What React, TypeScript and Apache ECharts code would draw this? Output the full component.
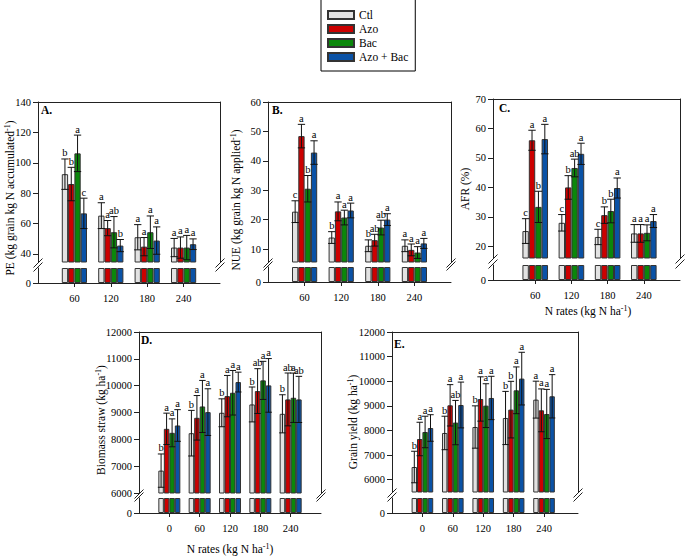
import React, { useEffect, useRef } from 'react';
import * as echarts from 'echarts';

const treatments = ['Ctl', 'Azo', 'Bac', 'Azo + Bac'];
const ratesABC = [60, 120, 180, 240];
const ratesDE = [0, 60, 120, 180, 240];

// A. PE (rows: Ctl, Azo, Bac, Azo + Bac; columns: N rates)
const peMean = [
  [92.5, 65.2, 51.0, 44.2],
  [86.0, 57.0, 44.8, 44.2],
  [106.2, 54.3, 54.3, 44.2],
  [66.7, 45.5, 48.8, 46.4],
];
const peErr = [
  [10, 8.5, 8.3, 6],
  [11, 5, 6, 7],
  [12, 10.3, 10.7, 8],
  [10, 4, 9, 3.5],
];
const peLetters = [
  ['b', 'a', 'a', 'a'],
  ['b', 'a', 'a', 'a'],
  ['a', 'ab', 'a', 'a'],
  ['c', 'b', 'a', 'a'],
];
const peTicks = [40, 60, 80, 100, 120, 140];

// B. NUE
const nueMean = [
  [22.7, 13.9, 11.1, 11.1],
  [48.4, 22.8, 13.0, 9.7],
  [30.5, 20.7, 17.3, 8.8],
  [42.8, 23.1, 20.0, 11.9],
];
const nueErr = [
  [3.7, 2, 2, 2],
  [4, 3.2, 2, 2],
  [4.5, 2.5, 2.5, 2],
  [4, 2.5, 2, 1.7],
];
const nueLetters = [
  ['c', 'b', 'b', 'a'],
  ['a', 'a', 'ab', 'a'],
  ['b', 'a', 'ab', 'a'],
  ['a', 'a', 'a', 'a'],
];
const nueTicks = [10, 20, 30, 40, 50, 60];

// C. AFR
const afrMean = [
  [25.2, 28.0, 23.2, 24.4],
  [56.0, 40.0, 30.6, 24.4],
  [33.4, 46.6, 32.0, 24.6],
  [56.4, 51.4, 39.8, 28.6],
];
const afrErr = [
  [4.2, 2.8, 2.6, 3],
  [3.4, 4, 2.8, 3],
  [5.3, 3, 4, 2.7],
  [5, 3.6, 3.4, 2.2],
];
const afrLetters = [
  ['c', 'c', 'c', 'a'],
  ['a', 'b', 'b', 'a'],
  ['b', 'ab', 'b', 'a'],
  ['a', 'a', 'a', 'a'],
];
const afrTicks = [20, 30, 40, 50, 60, 70];

// D. Biomass straw
const bsMean = [
  [6834, 8229, 8989, 9300, 8951],
  [8391, 8802, 9611, 9798, 9487],
  [8242, 9225, 9736, 10197, 9549],
  [8516, 9014, 10134, 10010, 9487],
];
const bsErr = [
  [620, 850, 520, 650, 710],
  [585, 830, 770, 835, 985],
  [520, 970, 830, 710, 920],
  [590, 870, 370, 1000, 860],
];
const bsLetters = [
  ['b', 'b', 'b', 'b', 'b'],
  ['a', 'a', 'a', 'ab', 'ab'],
  ['a', 'a', 'a', 'a', 'a'],
  ['a', 'a', 'a', 'a', 'ab'],
];
const bsTicks = [6000, 7000, 8000, 9000, 10000, 11000, 12000];

// E. Grain yield
const gyMean = [
  [6515, 7898, 8140, 8507, 9252],
  [7653, 9022, 9279, 8846, 8818],
  [7938, 8320, 9008, 9631, 8669],
  [8100, 9035, 9320, 10106, 9388],
];
const gyErr = [
  [640, 680, 860, 1080, 750],
  [680, 840, 900, 1150, 870],
  [640, 900, 890, 950, 1000],
  [540, 930, 880, 1070, 880],
];
const gyLetters = [
  ['b', 'b', 'b', 'b', 'a'],
  ['a', 'a', 'a', 'b', 'a'],
  ['a', 'ab', 'a', 'a', 'a'],
  ['a', 'a', 'a', 'a', 'a'],
];
const gyTicks = [6000, 7000, 8000, 9000, 10000, 11000, 12000];

const colors = ['#e2e2e2', '#cc0000', '#0b870b', '#0a52a6'];
const FONT = 'Liberation Serif';
const AX = '#222';

const panels = [
  { label: 'A.', rates: ratesABC, mean: peMean, err: peErr, letters: peLetters, ticks: peTicks,
    left: 38, right: 220, top: 102, ub: 262, lt: 268, lb: 283, xMin: 0, xMax: 300, yMin: 34.7, yMax: 140, bw: 6.3,
    yName: '{n|PE (kg grain kg N accumulated}{s|-1}{n|)}', yx: 10, yy: 198, lx: 41, ly: 104 },
  { label: 'B.', rates: ratesABC, mean: nueMean, err: nueErr, letters: nueLetters, ticks: nueTicks,
    left: 268, right: 451, top: 102, ub: 262, lt: 267, lb: 282, xMin: 0, xMax: 300, yMin: 5.58, yMax: 60, bw: 6.3,
    yName: '{n|NUE (kg grain kg N applied}{s|-1}{n|)}', yx: 236, yy: 200, lx: 272, ly: 104 },
  { label: 'C.', rates: ratesABC, mean: afrMean, err: afrErr, letters: afrLetters, ticks: afrTicks,
    left: 493, right: 680, top: 99, ub: 258, lt: 265, lb: 280, xMin: -10, xMax: 300, yMin: 16.06, yMax: 70, bw: 6.4,
    yName: '{n|AFR (%)}', yx: 465, yy: 189, lx: 499, ly: 102 },
  { label: 'D.', rates: ratesDE, mean: bsMean, err: bsErr, letters: bsLetters, ticks: bsTicks,
    left: 139, right: 321, top: 332, ub: 493, lt: 498, lb: 513, xMin: -60, xMax: 300, yMin: 6000, yMax: 12000, bw: 5.5,
    yName: '{n|Biomass straw (kg ha}{s|-1}{n|)}', yx: 101, yy: 420, lx: 141, ly: 334 },
  { label: 'E.', rates: ratesDE, mean: gyMean, err: gyErr, letters: gyLetters, ticks: gyTicks,
    left: 392, right: 578, top: 332, ub: 492, lt: 498, lb: 513, xMin: -60, xMax: 307, yMin: 5500, yMax: 12000, bw: 5.4,
    yName: '{n|Grain yield (kg ha}{s|-1}{n|)}', yx: 353, yy: 422, lx: 394, ly: 338 },
];

const richName = {
  n: { fontSize: 11.5, fontFamily: FONT, lineHeight: 14, verticalAlign: 'middle', fill: '#000', color: '#000' },
  s: { fontSize: 8, fontFamily: FONT, lineHeight: 9, verticalAlign: 'top', fill: '#000', color: '#000' },
};

function buildOption() {
  const grid: any[] = [];
  const xAxis: any[] = [];
  const yAxis: any[] = [];
  const series: any[] = [];
  const graphic: any[] = [];
  const lineStyle = { color: AX, width: 1 };
  const lbl = { fontSize: 10.5, fontFamily: FONT, color: '#000', formatter: (v: number) => String(v) };

  panels.forEach((p, pi) => {
    const g = grid.length;
    grid.push({ left: p.left, top: p.top, width: p.right - p.left, height: p.ub - p.top });
    grid.push({ left: p.left, top: p.lt, width: p.right - p.left, height: p.lb - p.lt });
    const xi = xAxis.length;
    xAxis.push({ gridIndex: g, type: 'value', min: p.xMin, max: p.xMax, position: 'top',
      axisLine: { show: true, onZero: false, lineStyle }, axisTick: { show: false }, axisLabel: { show: false }, splitLine: { show: false } });
    xAxis.push({ gridIndex: g + 1, type: 'value', min: p.xMin, max: p.xMax, position: 'bottom',
      axisLine: { show: true, onZero: false, lineStyle },
      axisTick: { show: true, length: 4, customValues: p.rates, lineStyle },
      axisLabel: { ...lbl, customValues: p.rates, margin: 10 }, splitLine: { show: false } });
    const yi = yAxis.length;
    yAxis.push({ gridIndex: g, type: 'value', min: p.yMin, max: p.yMax, position: 'left',
      axisLine: { show: true, onZero: false, lineStyle },
      axisTick: { show: true, length: 5, customValues: p.ticks, lineStyle },
      axisLabel: { ...lbl, customValues: p.ticks, margin: 7 }, splitLine: { show: false } });
    yAxis.push({ gridIndex: g, type: 'value', min: p.yMin, max: p.yMax, position: 'right',
      axisLine: { show: true, onZero: false, lineStyle }, axisTick: { show: false }, axisLabel: { show: false }, splitLine: { show: false } });
    yAxis.push({ gridIndex: g + 1, type: 'value', min: 0, max: 1, position: 'left',
      axisLine: { show: true, onZero: false, lineStyle },
      axisTick: { show: true, length: 5, customValues: [0], lineStyle },
      axisLabel: { ...lbl, customValues: [0], margin: 7 }, splitLine: { show: false } });

    treatments.forEach((t, k) => {
      const itemStyle = { color: colors[k], borderColor: '#333', borderWidth: 1 };
      series.push({ type: 'bar', name: t, xAxisIndex: xi, yAxisIndex: yi, barWidth: p.bw, barGap: '0%',
        clip: true, silent: true, itemStyle, data: p.rates.map((r, i) => [r, p.mean[k][i]]) });
      series.push({ type: 'bar', name: t, xAxisIndex: xi + 1, yAxisIndex: yi + 2, barWidth: p.bw, barGap: '0%',
        silent: true, itemStyle, data: p.rates.map((r) => [r, 1]) });
    });
    treatments.forEach((t, k) => {
      series.push({
        type: 'custom', name: 'err-' + pi + '-' + k, xAxisIndex: xi, yAxisIndex: yi, silent: true, z: 5,
        itemStyle: { color: '#000' },
        data: p.rates.map((r, i) => [r, p.mean[k][i], p.err[k][i]]),
        renderItem: (params: any, api: any) => {
          const x = api.value(0), y = api.value(1), e = api.value(2);
          const off = (k - 1.5) * p.bw;
          const c = api.coord([x, y]);
          const tp = api.coord([x, y + e]);
          const bt = api.coord([x, y - e]);
          const cx = c[0] + off;
          const hw = p.bw / 2 + 0.5;
          const ls = { stroke: '#111', lineWidth: 1 };
          return {
            type: 'group',
            children: [
              { type: 'line', shape: { x1: cx, y1: tp[1], x2: cx, y2: bt[1] }, style: ls },
              { type: 'line', shape: { x1: cx - hw, y1: tp[1], x2: cx + hw, y2: tp[1] }, style: ls },
              { type: 'line', shape: { x1: cx - hw, y1: bt[1], x2: cx + hw, y2: bt[1] }, style: ls },
            ],
          };
        },
      });
      // significance letters above the upper whisker
      series.push({
        type: 'scatter', name: 'lt-' + pi + '-' + k, xAxisIndex: xi, yAxisIndex: yi, silent: true, z: 6,
        symbolSize: 1, itemStyle: { color: 'rgba(0,0,0,0)' },
        data: p.rates.map((r, i) => [r, p.mean[k][i] + p.err[k][i]]),
        label: {
          show: true, position: 'top', distance: 0, offset: [(k - 1.5) * p.bw, 0], opacity: 1,
          formatter: (prm: any) => p.letters[k][prm.dataIndex],
          color: '#000', fontSize: 10.5, fontFamily: FONT,
        },
      });
    });

    graphic.push({ type: 'text', left: p.lx, top: p.ly, style: { text: p.label, fontSize: 11.5, fontWeight: 'bold', fontFamily: FONT, fill: '#000' } });
    graphic.push({ type: 'text', x: p.yx, y: p.yy, rotation: Math.PI / 2,
      style: { text: p.yName, rich: richName, align: 'center', verticalAlign: 'middle', textAlign: 'center', textVerticalAlign: 'middle', fontFamily: FONT, fontSize: 11.5, fill: '#000' } });
    [p.left, p.right].forEach((bx) => {
      [p.ub + 1, p.lt - 1].forEach((by) => {
        graphic.push({ type: 'line', shape: { x1: bx - 4.5, y1: by + 4.5, x2: bx + 4.5, y2: by - 4.5 }, style: { stroke: AX, lineWidth: 1 } });
      });
    });
  });

  const xName = '{n|N rates (kg N ha}{s|-1}{n|)}';
  graphic.push({ type: 'text', x: 588, y: 311, style: { text: xName, rich: richName, align: 'center', verticalAlign: 'middle', textAlign: 'center', textVerticalAlign: 'middle', fontFamily: FONT, fill: '#000' } });
  graphic.push({ type: 'text', x: 230, y: 549, style: { text: xName, rich: richName, align: 'center', verticalAlign: 'middle', textAlign: 'center', textVerticalAlign: 'middle', fontFamily: FONT, fill: '#000' } });

  return {
    animation: false,
    backgroundColor: '#fff',
    textStyle: { fontFamily: FONT },
    legend: {
      data: treatments, orient: 'vertical', left: 321, top: -1, icon: 'rect',
      itemWidth: 26, itemHeight: 8, itemGap: 2, padding: [10, 7, 8, 6],
      borderColor: '#000', borderWidth: 1, backgroundColor: '#fff', selectedMode: false,
      textStyle: { fontFamily: FONT, fontSize: 11.5, color: '#000' },
    },
    grid, xAxis, yAxis, series, graphic,
  };
}

export default function App() {
  const ref = useRef<HTMLDivElement>(null);
  useEffect(() => {
    if (!ref.current) return;
    const chart = echarts.init(ref.current, undefined, { renderer: 'svg' });
    chart.setOption(buildOption() as any);
    return () => chart.dispose();
  }, []);
  return <div ref={ref} style={{ position: 'fixed', left: 0, top: 0, width: 685, height: 556, background: '#fff' }} />;
}
